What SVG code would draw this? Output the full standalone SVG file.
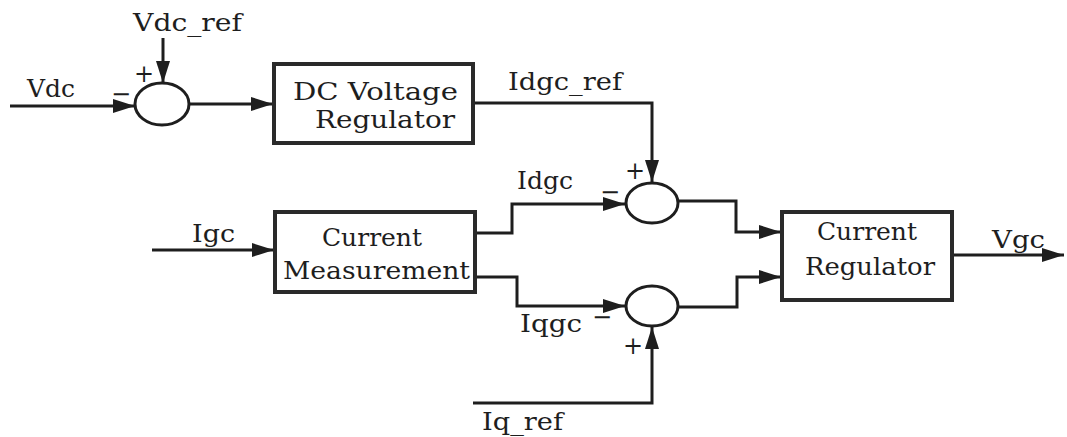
<svg xmlns="http://www.w3.org/2000/svg" width="1067" height="437" viewBox="0 0 1067 437">
<style>
.ln{fill:none;stroke:#1e1e1e;stroke-width:3}
.bx{fill:#fff;stroke:#2a2a2a;stroke-width:4}
.sum{fill:#fff;stroke:#1e1e1e;stroke-width:3}
.t{font-family:'DejaVu Serif',serif;font-size:24px;fill:#1e1e1e}
.s{font-family:'DejaVu Serif',serif;font-size:24px;fill:#1e1e1e}
</style>
<defs>
<marker id="ah" markerUnits="userSpaceOnUse" markerWidth="26" markerHeight="16" refX="22" refY="7" orient="auto">
<path d="M0,0 L22,7 L0,14 z" fill="#1e1e1e"/>
</marker>
</defs>
<rect width="1067" height="437" fill="#fff"/>
<g id="connectors">
<path class="ln" d="M163,38 V83" marker-end="url(#ah)"/>
<path class="ln" d="M10,106 H135" marker-end="url(#ah)"/>
<path class="ln" d="M189,104 H273" marker-end="url(#ah)"/>
<path class="ln" d="M473,103 H652 V182" marker-end="url(#ah)"/>
<path class="ln" d="M475,233 H512 V204 H625" marker-end="url(#ah)"/>
<path class="ln" d="M475,277 H517 V306 H625" marker-end="url(#ah)"/>
<path class="ln" d="M679,201 H736 V232 H781" marker-end="url(#ah)"/>
<path class="ln" d="M679,307 H737 V277 H781" marker-end="url(#ah)"/>
<path class="ln" d="M473,403 H652 V327" marker-end="url(#ah)"/>
<path class="ln" d="M152,250 H274" marker-end="url(#ah)"/>
<path class="ln" d="M952,255 H1064" marker-end="url(#ah)"/>
</g>
<g id="labels">
<text class="t" x="133" y="31" textLength="109" lengthAdjust="spacingAndGlyphs">Vdc_ref</text>
<text class="t" x="27" y="97" textLength="48" lengthAdjust="spacingAndGlyphs">Vdc</text>
<text class="t" x="508" y="90" textLength="114" lengthAdjust="spacingAndGlyphs">Idgc_ref</text>
<text class="t" x="517" y="189" textLength="56" lengthAdjust="spacingAndGlyphs">Idgc</text>
<text class="t" x="192" y="242" textLength="43" lengthAdjust="spacingAndGlyphs">Igc</text>
<text class="t" x="520" y="332" textLength="62" lengthAdjust="spacingAndGlyphs">Iqgc</text>
<text class="t" x="482" y="430" textLength="81" lengthAdjust="spacingAndGlyphs">Iq_ref</text>
<text class="t" x="992" y="248" textLength="53" lengthAdjust="spacingAndGlyphs">Vgc</text>
</g>
<g id="sum1">
<ellipse class="sum" cx="162" cy="104" rx="27" ry="21"/>
<text class="s" x="134" y="82">+</text>
<text class="s" x="111" y="102">−</text>
</g>
<g id="sum2">
<ellipse class="sum" cx="652" cy="203" rx="26" ry="20"/>
<text class="s" x="625" y="179">+</text>
<text class="s" x="600" y="200">−</text>
</g>
<g id="sum3">
<ellipse class="sum" cx="652" cy="306" rx="26" ry="20"/>
<text class="s" x="592" y="325">−</text>
<text class="s" x="623" y="354">+</text>
</g>
<g id="dc-voltage-regulator">
<rect class="bx" x="274" y="64" width="199" height="79"/>
<text class="t" x="293" y="100" textLength="165" lengthAdjust="spacingAndGlyphs">DC Voltage</text>
<text class="t" x="315" y="128" textLength="140" lengthAdjust="spacingAndGlyphs">Regulator</text>
</g>
<g id="current-measurement">
<rect class="bx" x="275" y="212" width="200" height="80"/>
<text class="t" x="322" y="246" textLength="100" lengthAdjust="spacingAndGlyphs">Current</text>
<text class="t" x="283" y="279" textLength="187" lengthAdjust="spacingAndGlyphs">Measurement</text>
</g>
<g id="current-regulator">
<rect class="bx" x="782" y="212" width="170" height="88"/>
<text class="t" x="817" y="240" textLength="100" lengthAdjust="spacingAndGlyphs">Current</text>
<text class="t" x="805" y="275" textLength="130" lengthAdjust="spacingAndGlyphs">Regulator</text>
</g>
</svg>
